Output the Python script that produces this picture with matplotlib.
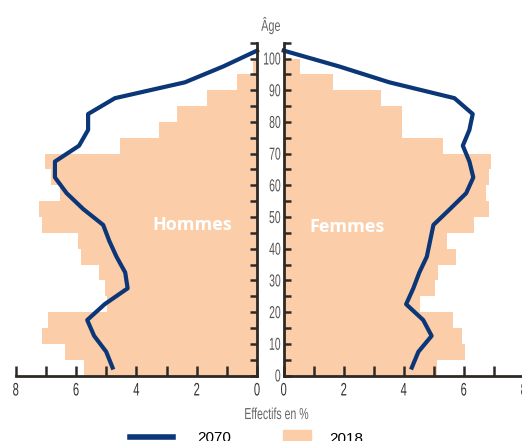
import numpy as np
import matplotlib
matplotlib.use("Agg")
import matplotlib.pyplot as plt
from matplotlib.lines import Line2D
from matplotlib.patches import Patch
from matplotlib.patheffects import AbstractPathEffect
from matplotlib.transforms import Affine2D

# 5-year age groups (lower bound) for the 2018 bars
age_groups = [0, 5, 10, 15, 20, 25, 30, 35, 40, 45,
              50, 55, 60, 65, 70, 75, 80, 85, 90, 95]
hommes_2018 = [5.74, 6.35, 7.14, 6.92, 4.96, 5.04, 5.24, 5.84, 5.95, 7.14,
               7.23, 6.53, 6.83, 7.03, 4.54, 3.25, 2.66, 1.65, 0.65, 0.15]
femmes_2018 = [5.12, 6.04, 5.93, 5.63, 4.54, 5.04, 5.15, 5.74, 5.43, 6.34,
               6.84, 6.74, 6.84, 6.91, 5.32, 3.93, 3.93, 3.23, 1.64, 0.53]

# 2070 projection, at the middle of each age group
ages_2070 = [2.5, 7.5, 12.5, 17.5, 22.5, 27.5, 32.5, 37.5, 42.5, 47.5, 52.5,
             57.5, 62.5, 67.5, 72.5, 77.5, 82.5, 87.5, 92.5, 97.5, 102.5]
hommes_2070 = [4.79, 5.00, 5.40, 5.63, 5.05, 4.29, 4.37, 4.66, 4.90, 5.10, 5.76,
               6.31, 6.70, 6.70, 5.90, 5.60, 5.60, 4.71, 2.39, 1.12, 0.0]
femmes_2070 = [4.27, 4.49, 4.93, 4.65, 4.08, 4.32, 4.52, 4.77, 4.88, 4.99, 5.54,
               6.08, 6.32, 6.19, 5.97, 6.19, 6.30, 5.69, 3.52, 1.85, 0.0]

x_ticks = [0, 2, 4, 6, 8]
y_ticks = list(range(0, 106, 5))

bar_color = "#fbcea9"
line_color = "#0b3677"
spine_color = "#2e2924"

plt.rcParams["font.family"] = ["Liberation Sans", "DejaVu Sans"]


class Narrow(AbstractPathEffect):
    """squeeze text horizontally (the original uses a condensed font)"""

    def __init__(self, sx, anchor="center"):
        super().__init__()
        self.sx = sx
        self.anchor = anchor

    def draw_path(self, renderer, gc, tpath, affine, rgbFace=None):
        ext = tpath.get_extents()
        cx = {"left": ext.x0, "center": (ext.x0 + ext.x1) / 2, "right": ext.x1}[self.anchor]
        t = Affine2D().translate(-cx, 0).scale(self.sx, 1).translate(cx, 0) + affine
        renderer.draw_path(gc, tpath, t, rgbFace)


fig = plt.figure(figsize=(5.22, 4.41), dpi=100)
ax_h = fig.add_axes([0.0301, 0.1485, 0.4623, 0.7547])
ax_f = fig.add_axes([0.5435, 0.1485, 0.4598, 0.7547])

ax_h.barh(age_groups, hommes_2018, height=5, align="edge", color=bar_color, lw=0)
ax_f.barh(age_groups, femmes_2018, height=5, align="edge", color=bar_color, lw=0)
ax_h.plot(hommes_2070, ages_2070, color=line_color, lw=3, clip_on=False)
ax_f.plot(femmes_2070, ages_2070, color=line_color, lw=3, clip_on=False)

ax_h.set_xlim(8, 0)
ax_f.set_xlim(0, 8)
for ax in (ax_h, ax_f):
    ax.set_ylim(0, 105)
    ax.set_xticks(x_ticks)
    ax.set_xticks([1, 3, 5, 7], minor=True)
    ax.set_yticks(y_ticks)
    ax.spines["top"].set_visible(False)
    for s in ax.spines.values():
        s.set_color(spine_color)
        s.set_linewidth(2)
    ax.tick_params(axis="x", which="both", direction="in", length=7, width=1.8,
                   color=spine_color, pad=5, labelsize=13, labelcolor="#333333")
    ax.tick_params(axis="y", direction="in", length=5, width=1.8, color=spine_color)

ax_h.spines["left"].set_visible(False)
ax_h.yaxis.tick_right()
ax_h.tick_params(axis="y", labelright=False)
ax_f.spines["right"].set_visible(False)
ax_f.set_yticklabels([str(v) if v % 10 == 0 else "" for v in y_ticks])
ax_f.tick_params(axis="y", pad=2, labelsize=12.5, labelcolor="#555555")

for ax in (ax_h, ax_f):
    for lab in ax.get_xticklabels():
        lab.set_path_effects([Narrow(0.62, "center")])
for lab in ax_f.get_yticklabels():
    lab.set_path_effects([Narrow(0.6, "right")])

ax_h.text(2.16, 47.5, "Hommes", color="white", fontsize=13, fontweight="bold",
          ha="center", va="center", family="Open Sans")
ax_f.text(2.11, 47.0, "Femmes", color="white", fontsize=13, fontweight="bold",
          ha="center", va="center", family="Open Sans")

fig.text(0.519, 0.943, "Âge", ha="center", va="center", fontsize=11.5,
         color="#666666", path_effects=[Narrow(0.68)])
fig.text(0.53, 0.06, "Effectifs en %", ha="center", va="center", fontsize=11.5,
         color="#666666", path_effects=[Narrow(0.66)])

leg1 = fig.legend(handles=[Line2D([], [], color=line_color, lw=4)], labels=["2070"],
                  loc="center left", bbox_to_anchor=(130 / 522, 1 - 438 / 441),
                  frameon=False, handlelength=2.8, handletextpad=1.6,
                  borderpad=0, borderaxespad=0, prop={"size": 11})
leg2 = fig.legend(handles=[Patch(color=bar_color)], labels=["2018"],
                  loc="center left", bbox_to_anchor=(283 / 522, 1 - 438 / 441),
                  frameon=False, handlelength=1.8, handleheight=1.0, handletextpad=1.2,
                  borderpad=0, borderaxespad=0, prop={"size": 11})

fig.savefig("out.png", dpi=100)
